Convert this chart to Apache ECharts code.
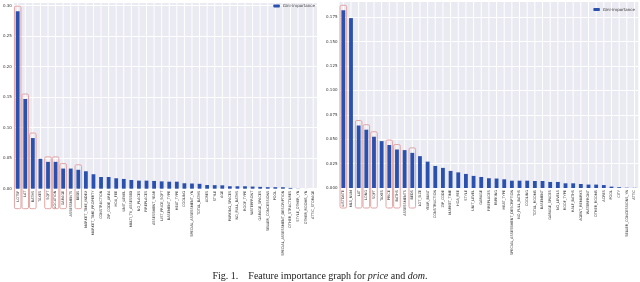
<!DOCTYPE html>
<html><head><meta charset="utf-8">
<script src="https://cdn.jsdelivr.net/npm/echarts@6/dist/echarts.min.js"></script>
<style>html,body{margin:0;padding:0;background:#fff}#c{width:640px;height:282px}</style>
</head><body><div id="c"></div>
<script>
const priceFeatures = ["LOTSF","LAT","BATHS","TAXES","SQFT","LOCATION","GARAGE","ASSESSMENTS","BEDS","MARKET_TIME_INDEX","MARKET_TIME_PROPERTY","CONSTRUCTION","ZIP_CODE_AREA","HOA_FEE","UNIT_LEVEL","MULTI_TV_ASSESSED","NO_PLACES","FIREPLACES","ASSESSMENT_YEAR","LIST_PRICE_SQFT","BASEMENT_TYPE","HEAT_TYPE","COOLING","SPECIAL_ASSESSMENT_YN","TOTAL_BATHS","ACRES","STYLE","AGE","PARKING_SPACES","NO_FULL_BATHS","ROOF_TYPE","WATERFRONT","GARAGE_SPACES","SELLER_CONCESSIONS","POOL","SPECIAL_ASSESSMENT_DESCRIPTION","OTHER_STRUCTURES","STYLE_OTHER_YN","OTHER_ROOMS_YN","ATTIC_STORAGE"];
const priceImportance = [0.291,0.147,0.083,0.049,0.044,0.044,0.033,0.033,0.031,0.0286,0.0237,0.0192,0.0192,0.0171,0.016,0.0143,0.0132,0.0132,0.0127,0.012,0.0115,0.0115,0.0089,0.0085,0.008,0.006,0.0058,0.0055,0.004,0.004,0.004,0.0035,0.003,0.0025,0.0025,0.0024,0.0013,0.0003,0.0001,0.0];
const priceHighlighted = [0,1,2,4,5,6,8];
const priceTicks = {min:0, max:0.306, interval:0.05, decimals:2};

const domFeatures = ["LISTDATE","MLS_NUM","LAT","LONG","SQFT","TAXES","PRICE","BATHS","ASSESSMENTS","BEDS","LOT_SIZE","YEAR_BUILT","CONSTRUCTION","ZIP_CODE","MARKET_TIME","HOA_FEE","STYLE","UNIT_LEVEL","GARAGE","FIREPLACES","PARKING","HEAT_TYPE","SPECIAL_ASSESSMENT_DESCRIPTION","NO_FULL_BATHS","COOLING","TOTAL_ROOMS","BASEMENT","GARAGE_SPACES","NO_LEVELS","ROOF_TYPE","HALF_BATHS","AGENT_REMARKS","WATERFRONT","OTHER_ROOMS","ACRES","POOL","CITY","SELLER_CONCESSIONS_YN","ATTIC"];
const domImportance = [0.182,0.174,0.064,0.0597,0.0525,0.048,0.044,0.0394,0.0388,0.036,0.0326,0.027,0.0226,0.0206,0.0175,0.016,0.0144,0.0124,0.0113,0.010,0.0097,0.0089,0.0075,0.0075,0.0075,0.0072,0.0072,0.0062,0.0062,0.0048,0.0048,0.0041,0.0035,0.0035,0.003,0.0014,0.0008,0.0003,0.0002];
const domHighlighted = [0,2,3,4,6,7,9];
const domTicks = {min:0, max:0.191, interval:0.025, decimals:3};

const seriesName = 'Gini-importance';
const barColor = '#2a51ad';
const boxColor = '#e2a5a5';
const textColor = '#333';

function boxRenderer(params, api) {
  const idx = api.value(0), v = api.value(1);
  const top = api.coord([idx, v]);
  const base = api.coord([idx, 0]);
  const w = api.size([1, 0])[0] * 0.86;
  const y0 = top[1] - 5;
  return {type:'rect', z2: 10,
    shape:{x: top[0]-w/2, y: y0, width: w, height: base[1] + 20 - y0, r: 1.5},
    style:{fill:'none', stroke: boxColor, lineWidth: 1}};
}
function vGridRenderer(params, api) {
  const x = api.coord([api.value(0), 0])[0];
  const cs = params.coordSys;
  return {type:'line', shape:{x1:x, y1:cs.y, x2:x, y2:cs.y + cs.height},
    style:{stroke:'#fff', lineWidth:1}};
}

function xAxisFor(cats, gi) {
  return {type:'category', gridIndex: gi, data: cats,
    axisLine:{show:false}, axisTick:{show:false},
    splitLine:{show:false},
    axisLabel:{rotate:90, interval:0, fontSize:3.5, margin:2, color:textColor, fontFamily:'DejaVu Sans'}};
}
function yAxisFor(t, gi) {
  return {type:'value', gridIndex: gi, min:t.min, max:t.max, interval:t.interval,
    axisLine:{show:false}, axisTick:{show:false},
    splitLine:{show:true, lineStyle:{color:'#fff', width:1}},
    axisLabel:{fontSize:4, margin:2, color:textColor, fontFamily:'DejaVu Sans', showMaxLabel:false,
      formatter: v => v.toFixed(t.decimals)}};
}
const legendText = {fontSize:4, color:textColor, fontFamily:'DejaVu Sans', padding:[0,0,0,-2]};

const chart = echarts.init(document.getElementById('c'), null, {renderer:'canvas'});
chart.setOption({
  animation:false,
  backgroundColor:'#fff',
  title:{left:'center', top:266,
    text:'{n|Fig. 1.}{n|    Feature importance graph for }{i|price}{n| and }{i|dom}{n|.}',
    textStyle:{fontWeight:'normal', rich:{
      n:{fontFamily:'Liberation Serif', fontSize:10, fontWeight:'normal', color:'#222'},
      i:{fontFamily:'Liberation Serif', fontSize:10, fontWeight:'normal', fontStyle:'italic', color:'#222'}}}},
  legend:[
    {data:[seriesName], right:325, top:4, padding:0, itemWidth:6.5, itemHeight:3, itemGap:2, textStyle:legendText},
    {data:[seriesName], right:5, top:7.5, padding:0, itemWidth:6.5, itemHeight:3, itemGap:2, textStyle:legendText}
  ],
  grid:[
    {left:12, top:2, width:305, height:186.7, show:true, backgroundColor:'#EAEAF2', borderWidth:0},
    {left:339.5, top:1.5, width:298.8, height:186.5, show:true, backgroundColor:'#EAEAF2', borderWidth:0}
  ],
  xAxis:[xAxisFor(priceFeatures,0), xAxisFor(domFeatures,1)],
  yAxis:[yAxisFor(priceTicks,0), yAxisFor(domTicks,1)],
  series:[
    {type:'custom', name:'priceGrid', xAxisIndex:0, yAxisIndex:0, z:1, silent:true, renderItem:vGridRenderer,
     data: priceFeatures.map((_, i) => [i])},
    {type:'custom', name:'domGrid', xAxisIndex:1, yAxisIndex:1, z:1, silent:true, renderItem:vGridRenderer,
     data: domFeatures.map((_, i) => [i])},
    {type:'bar', name:seriesName, xAxisIndex:0, yAxisIndex:0, z:2, data:priceImportance, barWidth:'50%', itemStyle:{color:barColor}},
    {type:'bar', name:seriesName, xAxisIndex:1, yAxisIndex:1, z:2, data:domImportance, barWidth:'50%', itemStyle:{color:barColor}},
    {type:'custom', name:'priceBoxes', xAxisIndex:0, yAxisIndex:0, clip:false, z:5, renderItem:boxRenderer,
     data: priceHighlighted.map(i => [i, priceImportance[i]])},
    {type:'custom', name:'domBoxes', xAxisIndex:1, yAxisIndex:1, clip:false, z:5, renderItem:boxRenderer,
     data: domHighlighted.map(i => [i, domImportance[i]])}
  ]
});
</script></body></html>
